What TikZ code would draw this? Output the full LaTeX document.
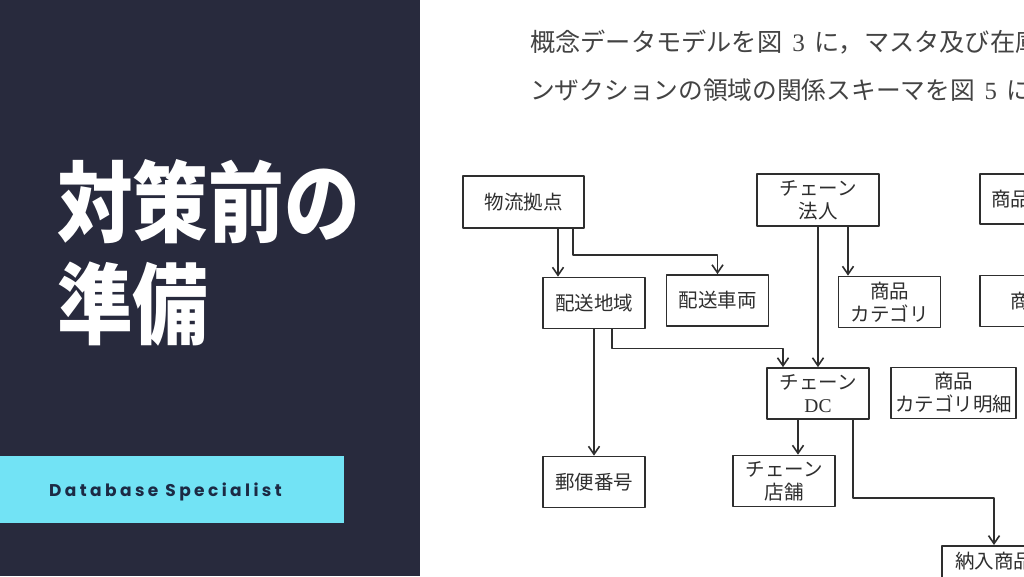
\documentclass[tikz,border=0pt]{standalone}
\usepackage{fontspec}
\usepackage{graphicx}
\usetikzlibrary{arrows.meta}
\newfontfamily\jpfont{Noto Sans CJK JP}
\newfontfamily\badgefont{Poppins}
\newfontfamily\latinfont{Liberation Serif}
\definecolor{panel}{HTML}{282A3D}
\definecolor{badge}{HTML}{72E3F5}
\definecolor{badgetext}{HTML}{1C2A44}
\definecolor{ink}{HTML}{2E2E2E}
\begin{document}
\begin{tikzpicture}[x=1pt, y=-1pt, line join=round, line cap=round,
		>={Straight Barb[length=8pt,width=11pt]},
		ent/.style={draw=ink, line width=1.7pt, text=ink, inner sep=0pt, align=center,
			minimum width=102pt, minimum height=51pt, font=\jpfont\fontsize{19.5}{23}\selectfont},
		link/.style={->, draw=ink, line width=1.6pt},
		scan/.style={anchor=west, inner sep=0pt, text=ink!90, font=\jpfont\fontsize{#1}{30}\selectfont},
		headline/.style={anchor=north west, inner sep=0pt, text=white, font=\jpfont\bfseries\fontsize{88}{103}\selectfont}]
	\def\xsplit{420} \def\xmax{1024} \def\ymax{576}
	\useasboundingbox (0,0) rectangle (\xmax,\ymax);
	% dark side with title and tag
	\fill[panel] (0,0) rectangle (\xsplit,\ymax);
	\fill[badge] (0,456) rectangle (344,523);
	\node[headline] (title1) at (57,159) {\scalebox{0.86}[1]{対策前の}};
	\node[headline] (title2) at (57,262) {\scalebox{0.86}[1]{準備}};
	\node[anchor=base west, inner sep=0pt, text=badgetext,
		font=\badgefont\bfseries\fontsize{17}{20}\selectfont\addfontfeature{LetterSpace=20}] (tag) at (49,496) {Database Specialist};
	% scanned page, cut at the right edge
	\begin{scope}
		\clip (\xsplit,0) rectangle (\xmax,\ymax);
		\fill[white] (\xsplit,0) rectangle (\xmax,\ymax);
		\node[scan=25.2] (line1) at (530,42.5) {概念データモデルを図\hspace{.4em}{\latinfont 3}\hspace{.4em}に，マスタ及び在庫};
		\node[scan=24.7] (line2) at (530,90.5) {ンザクションの領域の関係スキーマを図\hspace{.4em}{\latinfont 5}\hspace{.4em}に};
		\node[ent, minimum width=121pt, minimum height=52pt] (butsuryu) at (523.5,202) {物流拠点};
		\node[ent, minimum width=122pt, minimum height=52pt] (houjin) at (818,200) {チェーン\\法人};
		\node[ent, minimum width=61pt, minimum height=50pt] (shohin) at (1010.5,199) {商品};
		\node[ent] (chiiki) at (594,303) {配送地域};
		\node[ent] (sharyo) at (717.5,300.5) {配送車両};
		\node[ent] (category) at (889.5,302) {商品\\カテゴリ};
		\node[ent, minimum width=100pt] (shohin2) at (1030,301) {商品};
		\node[ent] (dc) at (818,393.5) {チェーン\\{\latinfont DC}};
		\node[ent, minimum width=125pt] (meisai) at (953.5,393) {商品\\カテゴリ明細};
		\node[ent] (yubin) at (594,482) {郵便番号};
		\node[ent] (tenpo) at (784,481) {チェーン\\店舗};
		\node[ent, anchor=north, minimum width=104pt, minimum height=52pt] (nonyu) at (994,545) {納入商品\\\mbox{}};
		% relationships
		\draw[link] ([xshift=34.5pt]butsuryu.south) -- ([xshift=-36pt]chiiki.north);
		\draw[link] ([xshift=49.5pt]butsuryu.south) -- ++(0,26) -| (sharyo.north);
		\draw[link] (houjin.south) -- (dc.north);
		\draw[link] ([xshift=30pt]houjin.south) -- ([xshift=-41.5pt]category.north);
		\draw[link] (chiiki.south) -- (yubin.north);
		\draw[link] ([xshift=18pt]chiiki.south) -- ++(0,19) -| ([xshift=-35pt]dc.north);
		\draw[link] ([xshift=-20pt]dc.south) -- ([xshift=14pt]tenpo.north);
		\draw[link] ([xshift=35pt]dc.south) -- ++(0,78) -| (nonyu.north);
	\end{scope}
\end{tikzpicture}
\end{document}
